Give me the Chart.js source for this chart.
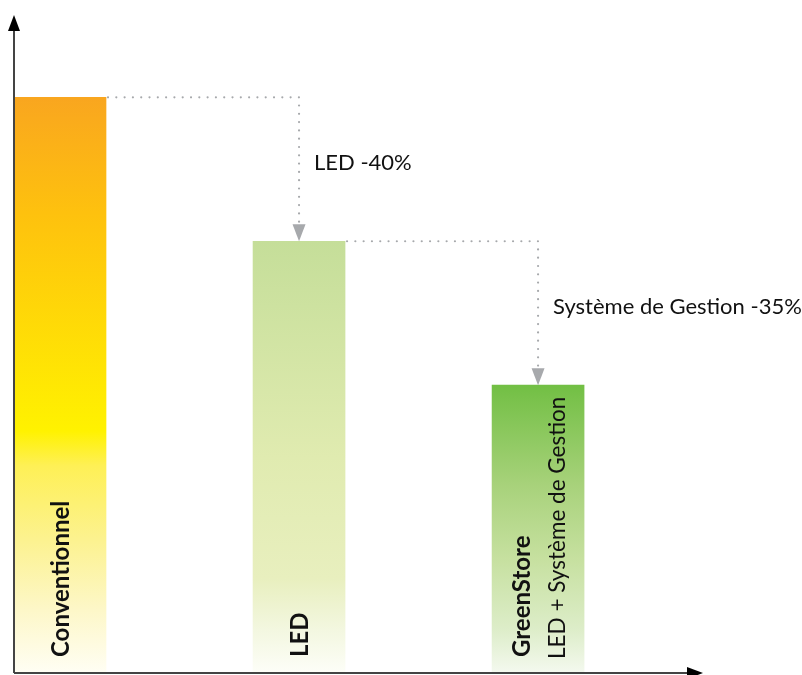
<!DOCTYPE html>
<html lang="fr">
<head>
  <meta charset="UTF-8">
  <title>GreenStore</title>
  <style>
    body {
      margin: 0;
      background: #ffffff;
    }
    .wrap {
      width: 802px;
      height: 675px;
      position: relative;
    }
  </style>
</head>
<body>
  <div class="wrap">
    <canvas id="chart"></canvas>
  </div>

  <script src="https://cdn.jsdelivr.net/npm/chart.js"></script>
  <script>
    // données (Conventionnel = 100)
    const categories = ["Conventionnel", "LED", "GreenStore"];
    const subLabels = ["", "", "LED + Système de Gestion"];
    const values = [100, 75, 50];
    const positions = [0, 1, 2];
    const stepLabels = ["LED -40%", "Système de Gestion -35%"];

    // dégradés des barres (haut -> bas)
    const gradients = [
      [[0, "#F9A61F"], [0.2, "#FEC10E"], [0.58, "#FFF200"], [0.64, "#FEF056"], [0.77, "#FCF290"], [0.89, "#FDF7C8"], [1, "#FFFEF4"]],
      [[0, "#C5DE99"], [0.5, "#E0EBB0"], [0.78, "#E8EFBE"], [0.9, "#F3F7E0"], [1, "#FDFEF8"]],
      [[0, "#72BF44"], [0.35, "#A8D27B"], [0.6, "#C6E09F"], [0.85, "#DDEDC9"], [1, "#F4F9EF"]]
    ];

    const FONT = "Lato, 'DejaVu Sans', sans-serif";
    const GREY = "#A7A9AC";

    function barFill(context) {
      const chart = context.chart;
      const area = chart.chartArea;
      if (!area) return gradients[context.dataIndex][0][1];
      const yTop = chart.scales.y.getPixelForValue(values[context.dataIndex]);
      const g = chart.ctx.createLinearGradient(0, yTop, 0, area.bottom);
      gradients[context.dataIndex].forEach(s => g.addColorStop(s[0], s[1]));
      return g;
    }

    function arrowHead(c, x, y, w, h, dir) {
      c.beginPath();
      if (dir === "up") {
        c.moveTo(x, y);
        c.lineTo(x - w / 2, y + h);
        c.lineTo(x + w / 2, y + h);
      } else if (dir === "down") {
        c.moveTo(x, y);
        c.lineTo(x - w / 2, y - h);
        c.lineTo(x + w / 2, y - h);
      } else {
        c.moveTo(x, y);
        c.lineTo(x - h, y - w / 2);
        c.lineTo(x - h, y + w / 2);
      }
      c.closePath();
      c.fill();
    }

    const decorations = {
      id: "decorations",
      afterDatasetsDraw(chart) {
        const c = chart.ctx;
        const area = chart.chartArea;
        const bars = chart.getDatasetMeta(0).data;

        // flèches pointillées entre les barres + libellés
        for (let i = 0; i < bars.length - 1; i++) {
          const a = bars[i], b = bars[i + 1];
          const xStart = a.x + a.width / 2 + 2;
          c.save();
          c.strokeStyle = GREY;
          c.lineWidth = 2.2;
          c.lineCap = "round";
          c.setLineDash([0, 8.3]);
          c.beginPath();
          c.moveTo(xStart, a.y);
          c.lineTo(b.x, a.y);
          c.lineTo(b.x, b.y - 14);
          c.stroke();
          c.restore();

          c.fillStyle = GREY;
          arrowHead(c, b.x, b.y, 13, 17, "down");

          c.fillStyle = "#111";
          c.font = "22px " + FONT;
          c.textAlign = "left";
          c.textBaseline = "alphabetic";
          c.fillText(stepLabels[i], b.x + 15, (a.y + b.y) / 2 + 1);
        }

        // libellés verticaux dans les barres
        bars.forEach((bar, i) => {
          c.save();
          c.translate(bar.x, area.bottom - 16);
          c.rotate(-Math.PI / 2);
          c.fillStyle = "#111";
          c.textAlign = "left";
          c.textBaseline = "alphabetic";
          c.font = "bold 24px " + FONT;
          if (subLabels[i]) {
            c.fillText(categories[i], 0, -8);
            c.font = "22.5px " + FONT;
            c.fillText(subLabels[i], -2, 27);
          } else {
            c.fillText(categories[i], 0, 9);
          }
          c.restore();
        });

        // axes avec flèches
        c.save();
        c.strokeStyle = "#444";
        c.lineWidth = 2;
        c.beginPath();
        c.moveTo(area.left, area.bottom);
        c.lineTo(area.left, area.top + 12);
        c.moveTo(area.left, area.bottom);
        c.lineTo(area.right - 12, area.bottom);
        c.stroke();
        c.fillStyle = "#000";
        arrowHead(c, area.left, area.top, 12, 16, "up");
        arrowHead(c, area.right, area.bottom, 12, 16, "right");
        c.restore();
      }
    };

    new Chart(document.getElementById("chart"), {
      type: "bar",
      data: {
        datasets: [{
          data: positions.map((p, i) => ({ x: p, y: values[i] })),
          backgroundColor: barFill,
          borderWidth: 0,
          barThickness: 92
        }]
      },
      options: {
        responsive: true,
        maintainAspectRatio: false,
        animation: false,
        layout: {
          padding: { left: 14, top: 15, right: 99, bottom: 2 }
        },
        scales: {
          x: { type: "linear", min: -0.1925, max: 2.69, offset: false, display: false },
          y: { min: 0, max: 114.3, display: false }
        },
        plugins: {
          legend: { display: false },
          tooltip: { enabled: false }
        }
      },
      plugins: [decorations]
    });
  </script>
</body>
</html>
